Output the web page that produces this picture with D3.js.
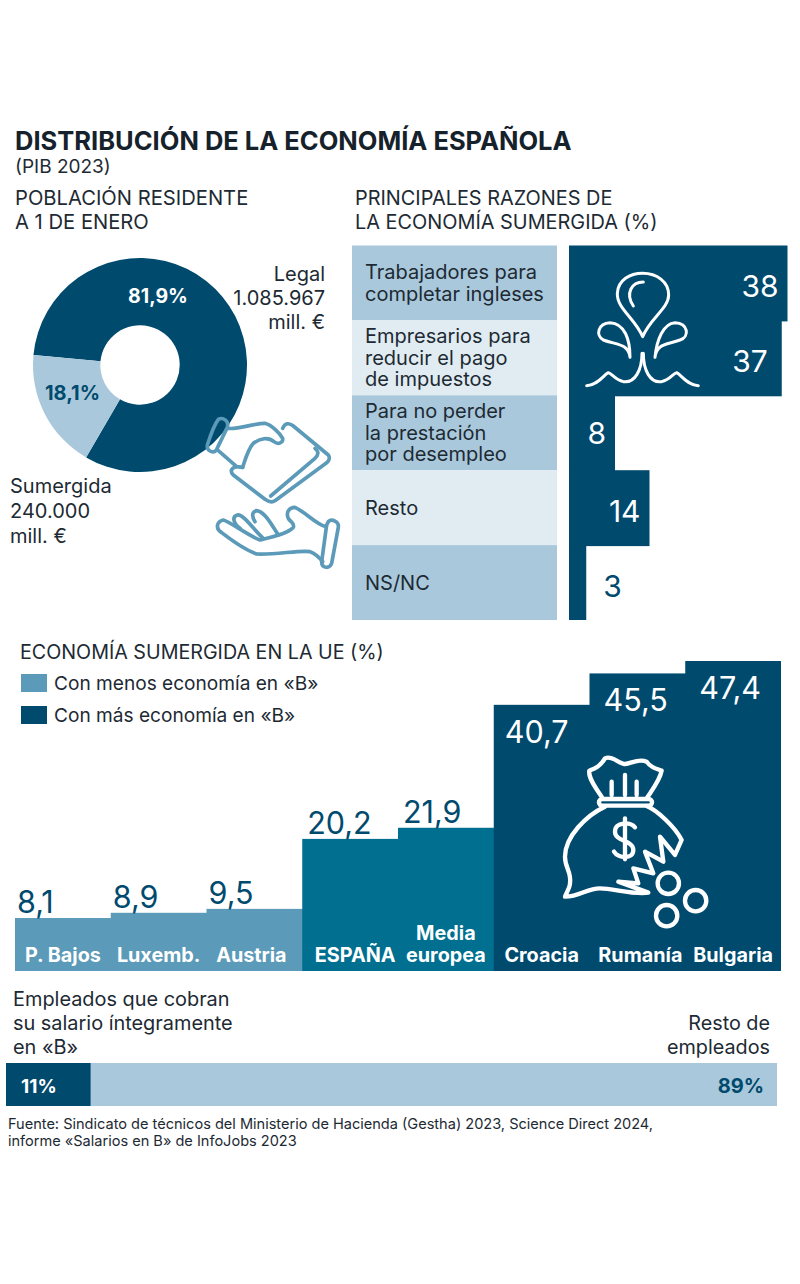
<!DOCTYPE html>
<html>
<head>
<meta charset="utf-8">
<script src="https://d3js.org/d3.v7.min.js"></script>
<style>
body {margin: 0; background: #fff;}
svg {display: block;}
text {font-family: "Inter", "Liberation Sans", sans-serif; fill: #1d2a33;}
.icon {fill: none; stroke-linecap: round; stroke-linejoin: round;}
</style>
</head>
<body>
<svg id="chart" width="800" height="1284"></svg>
<script>
// donut
const pibNames = ["Legal", "Sumergida"];
const pibShares = [81.9, 18.1];
const pibLabels = ["81,9%", "18,1%"];

// reasons
const razonLabels = [
  ["Trabajadores para", "completar ingleses"],
  ["Empresarios para", "reducir el pago", "de impuestos"],
  ["Para no perder", "la prestación", "por desempleo"],
  ["Resto"],
  ["NS/NC"]
];
const razonValues = [38, 37, 8, 14, 3];

// EU
const paises = [["P. Bajos"], ["Luxemb."], ["Austria"], ["ESPAÑA"], ["Media", "europea"], ["Croacia"], ["Rumanía"], ["Bulgaria"]];
const sumergida = [8.1, 8.9, 9.5, 20.2, 21.9, 40.7, 45.5, 47.4];
const grupos = ["low", "low", "low", "mid", "mid", "high", "high", "high"];

// salary bar
const salarioValues = [11, 89];

const dark = "#004a6e", mid = "#006f90", steel = "#5b9ab8", light = "#a9c8db", pale = "#e1ecf2";
const fmt = d => String(d).replace(".", ",");

const svg = d3.select("#chart");

function lines(arr, x, y, lh, size, anchor, weight, color) {
  const t = svg.append("text").attr("text-anchor", anchor || "start")
    .style("font-size", size + "px").style("font-weight", weight || 400);
  if (color) t.style("fill", color);
  arr.forEach((s, i) => t.append("tspan").attr("x", x).attr("y", y + i * lh).text(s));
  return t;
}

// headings
lines(["DISTRIBUCIÓN DE LA ECONOMÍA ESPAÑOLA"], 15, 150, 0, 25.5, "start", 700, "#16222b");
lines(["(PIB 2023)"], 15, 173, 0, 19);
lines(["POBLACIÓN RESIDENTE", "A 1 DE ENERO"], 15, 205, 24, 20.2);
lines(["PRINCIPALES RAZONES DE", "LA ECONOMÍA SUMERGIDA (%)"], 355, 205, 24, 19.9);

// donut
const pie = d3.pie().sort(null).startAngle(275.4 * Math.PI / 180).endAngle((275.4 + 360) * Math.PI / 180);
const arc = d3.arc().innerRadius(39.7).outerRadius(107);
const donut = svg.append("g").attr("transform", "translate(140,365)");
donut.selectAll("path").data(pie(pibShares)).join("path")
  .attr("d", arc)
  .attr("fill", (d, i) => i == 0 ? dark : light);
lines([pibLabels[0]], 158, 303, 0, 19.5, "middle", 700, "#fff");
lines([pibLabels[1]], 72.5, 400, 0, 20, "middle", 700, dark);

lines([pibNames[0], "1.085.967", "mill. €"], 325, 281, 24, 20, "end");
lines([pibNames[1], "240.000", "mill. €"], 10, 493, 25, 20);

// hands icon
const hands = svg.append("g").attr("class", "icon").attr("transform", "translate(200,410) scale(0.3333)")
  .attr("stroke", steel).attr("stroke-width", 11);
[
  "M55 28C70 20 88 35 82 52L50 118C42 132 20 125 22 105C30 80 42 45 55 28Z",
  "M85 55C110 60 160 40 195 40C215 45 240 70 248 85C250 98 235 105 222 95C205 80 180 85 160 100C145 115 135 150 128 172",
  "M55 122L110 170L128 172",
  "M248 55C255 38 268 38 280 48L385 135C392 145 385 155 378 160L225 272C215 280 205 275 195 268L100 195C90 185 92 175 108 170",
  "M345 115C358 125 355 135 345 145L212 258",
  "M385 335C395 325 418 335 415 352L395 460C390 478 365 475 365 455L380 345Z",
  "M378 350C350 345 315 305 285 292C265 292 258 310 265 325C270 335 285 340 280 352C265 370 220 380 180 390C150 380 90 335 70 330C50 335 45 355 65 368C100 395 135 420 170 432C225 435 300 420 330 425C345 430 360 445 368 455",
  "M235 375C215 345 195 305 170 302C155 305 155 320 165 335",
  "M190 385C165 365 130 310 112 315C95 320 100 340 120 355"
].forEach(d => hands.append("path").attr("d", d));

// reasons: label cells and stepped bars
const yRazon = d3.scaleBand().domain(d3.range(razonValues.length)).range([245.5, 620]);
const xRazon = d3.scaleLinear().domain([0, 38]).range([569, 787.5]);

svg.append("g").selectAll("rect").data(razonLabels).join("rect")
  .attr("x", 352).attr("width", 205)
  .attr("y", (d, i) => yRazon(i)).attr("height", yRazon.bandwidth())
  .attr("fill", (d, i) => i % 2 ? pale : light);
razonLabels.forEach((l, i) => {
  const c = yRazon(i) + yRazon.bandwidth() / 2;
  lines(l, 365, c + 7 - (l.length - 1) * 10.8, 21.6, 20);
});

// rows overlap by a pixel so no seam shows between them
svg.append("g").selectAll("rect").data(razonValues).join("rect")
  .attr("x", xRazon(0)).attr("width", d => xRazon(d) - xRazon(0))
  .attr("y", (d, i) => yRazon(i))
  .attr("height", (d, i) => yRazon.bandwidth() + (i < razonValues.length - 1 ? 1 : 0))
  .attr("fill", dark);
razonValues.forEach((v, i) => {
  const c = yRazon(i) + yRazon.bandwidth() / 2 + (v == 8 ? 11 : 14);
  if (v > 5) lines([v], xRazon(v) - (v == 37 ? 14 : 9), c, 0, 30, "end", 400, "#fff");
  else lines([v], xRazon(v) + 17, c, 0, 30, "start", 400, dark);
});

// fountain icon
const fountain = svg.append("g").attr("class", "icon").attr("transform", "translate(560,240) scale(0.3333)")
  .attr("stroke", "#fff").attr("stroke-width", 9);
[
  "M248 290C225 235 170 205 172 160C174 120 210 100 248 100C290 100 326 125 326 165C326 205 270 235 248 290Z",
  "M250 126C215 126 195 160 220 198",
  "M210 352C205 310 170 315 130 300C105 285 115 250 150 248C195 250 210 300 210 352Z",
  "M285 352C290 300 310 250 345 248C385 250 390 290 360 300C320 315 290 310 285 352Z",
  "M246 340C246 390 225 430 190 425C165 420 155 400 145 398C130 405 115 435 80 437",
  "M250 340C250 390 270 430 305 425C330 420 340 400 350 398C365 405 380 435 415 437"
].forEach(d => fountain.append("path").attr("d", d));

// EU section
lines(["ECONOMÍA SUMERGIDA EN LA UE (%)"], 20, 659, 0, 19.7);
const legendNames = ["Con menos economía en «B»", "Con más economía en «B»"];
[steel, dark].forEach((c, i) => {
  svg.append("rect").attr("x", 21).attr("y", 674 + i * 32).attr("width", 26).attr("height", 18).attr("fill", c);
  lines([legendNames[i]], 54, 690 + i * 32, 0, 19.1);
});

const xUe = d3.scaleBand().domain(d3.range(paises.length)).range([15, 781]);
const yUe = d3.scaleLinear().domain([0, 47.4]).range([971, 661]);
const colorUe = d3.scaleOrdinal().domain(["low", "mid", "high"]).range([steel, mid, dark]);

svg.append("g").selectAll("rect").data(sumergida).join("rect")
  .attr("x", (d, i) => xUe(i))
  .attr("width", (d, i) => xUe.bandwidth() + (i < sumergida.length - 1 ? 1 : 0))
  .attr("y", d => yUe(d)).attr("height", d => yUe(0) - yUe(d))
  .attr("fill", (d, i) => colorUe(grupos[i]));

sumergida.forEach((v, i) => {
  const inside = v > 30;
  const dx = grupos[i] == "low" ? 2 : grupos[i] == "mid" ? 5 : (i == 5 ? 11 : 14);
  lines([fmt(v)], xUe(i) + dx, inside ? yUe(v) + 38 : yUe(v) - 5, 0, 30.5, "start", 400, inside ? "#fff" : dark);
});
paises.forEach((l, i) => {
  const nudge = i == 2 ? -3 : i == 3 ? 5 : i == 6 ? 3 : 0;
  lines(l, xUe(i) + xUe.bandwidth() / 2 + nudge, 962 - (l.length - 1) * 22, 22, 19.8, "middle", 700, "#fff");
});

// money bag icon
const bag = svg.append("g").attr("class", "icon").attr("transform", "translate(490,740) scale(0.3333)")
  .attr("stroke", "#fff").attr("stroke-width", 13);
[
  "M335 170C310 135 295 110 298 92C315 85 330 80 345 55C365 45 385 70 405 72C425 70 445 55 470 65C480 80 495 85 515 92C510 120 490 145 470 175",
  "M338 177H475C490 177 490 197 475 197H338C323 197 323 177 338 177Z",
  "M365 165V125M405 165V105M440 165V125",
  "M345 200C290 225 225 290 225 350C225 385 245 395 240 430C240 445 225 465 225 470C270 470 290 445 330 445C370 445 430 465 475 458L385 425L445 430L430 385L490 400L465 335L520 365L510 290L555 345L575 300C555 260 500 210 470 198",
  "M435 262C420 245 375 245 375 275C375 305 430 300 430 330C430 360 385 355 372 335M405 235V358"
].forEach(d => bag.append("path").attr("d", d));
bag.selectAll("circle").data([[535, 430], [617, 482], [530, 527]]).join("circle")
  .attr("cx", d => d[0]).attr("cy", d => d[1]).attr("r", 32);

// salary bar
const xSal = d3.scaleLinear().domain([0, 100]).range([6, 777]);
svg.append("g").selectAll("rect").data(d3.pairs([0, salarioValues[0], 100])).join("rect")
  .attr("x", d => xSal(d[0])).attr("width", d => xSal(d[1]) - xSal(d[0]))
  .attr("y", 1063).attr("height", 43)
  .attr("fill", (d, i) => i == 0 ? dark : light);
lines([salarioValues[0] + "%"], 21, 1093, 0, 19, "start", 700, "#fff");
lines([salarioValues[1] + "%"], 764, 1093, 0, 20, "end", 700, dark);
lines(["Empleados que cobran", "su salario íntegramente", "en «B»"], 13, 1006, 24, 19.9);
lines(["Resto de", "empleados"], 770, 1030, 24, 19.8, "end");

// source
lines(["Fuente: Sindicato de técnicos del Ministerio de Hacienda (Gestha) 2023, Science Direct 2024,",
       "informe «Salarios en B» de InfoJobs 2023"], 8, 1129, 17, 14.55);
</script>
</body>
</html>
